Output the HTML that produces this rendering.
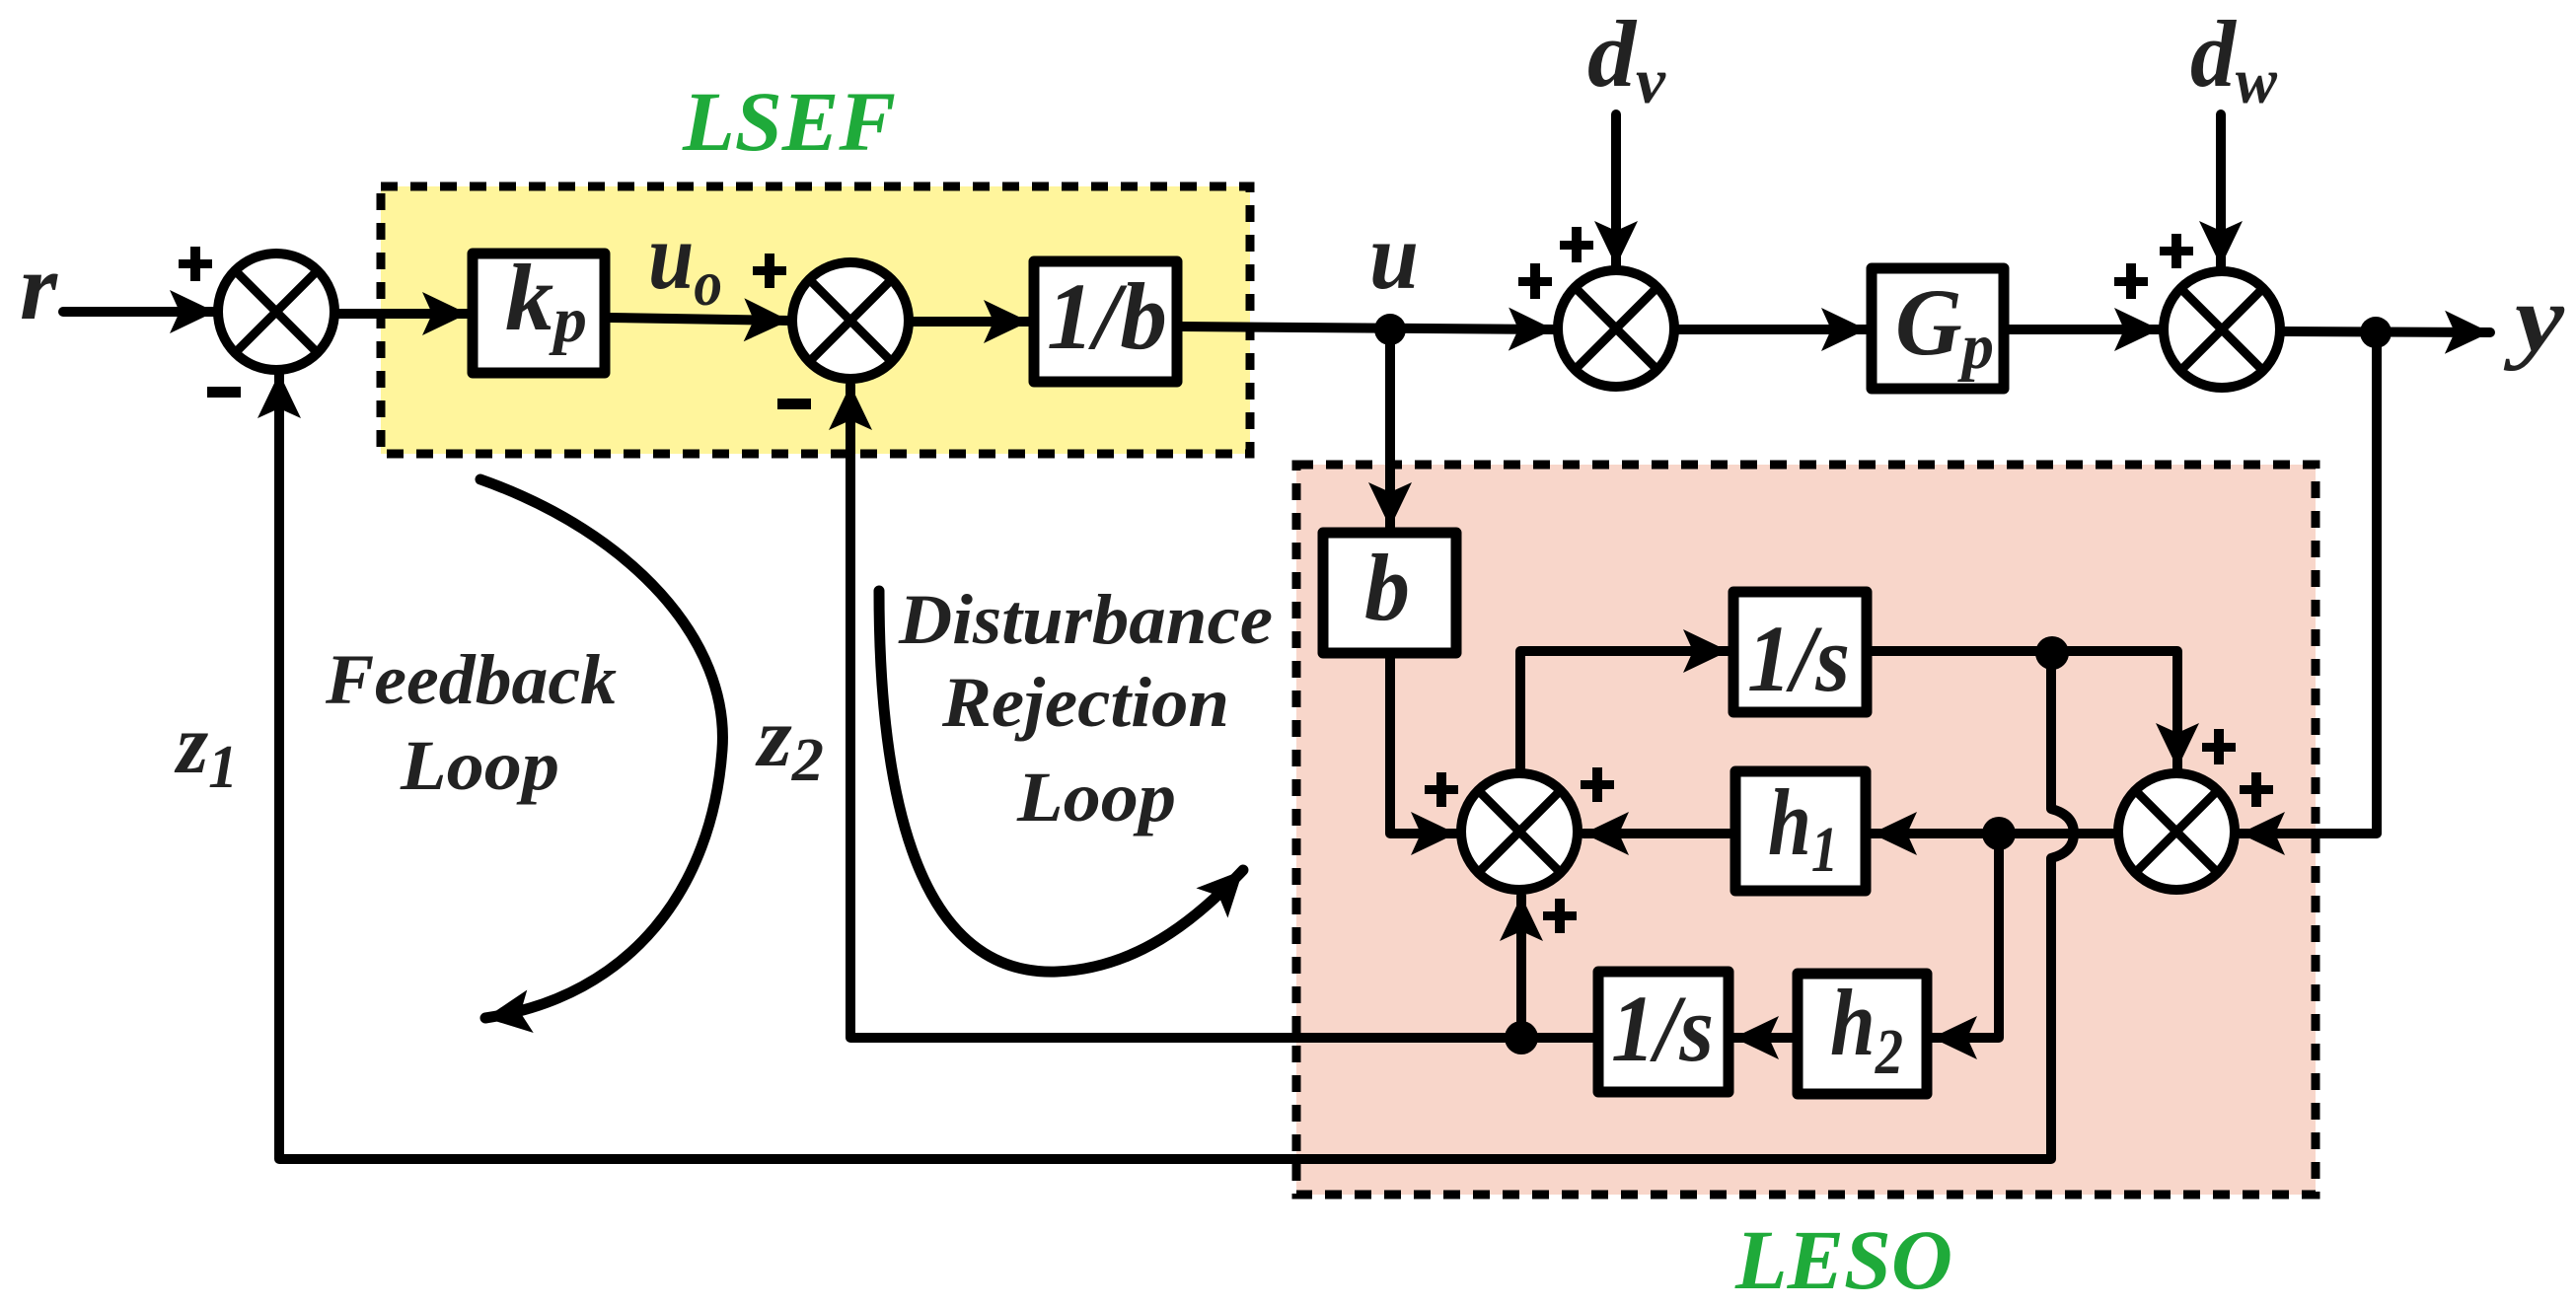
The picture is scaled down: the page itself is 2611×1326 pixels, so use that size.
<!DOCTYPE html>
<html><head><meta charset="utf-8"><style>
html,body{margin:0;padding:0;background:#fff;}
svg{display:block;}
.t{font-family:"Liberation Serif","Times New Roman",serif;font-style:italic;font-weight:bold;fill:#222;}
.g{font-family:"Liberation Serif","Times New Roman",serif;font-style:italic;font-weight:bold;fill:#1faa3a;}
</style></head><body>
<svg width="2611" height="1326" viewBox="0 0 2611 1326" xmlns="http://www.w3.org/2000/svg">
<defs>
<marker id="a" markerUnits="userSpaceOnUse" markerWidth="60" markerHeight="50" refX="0" refY="0" viewBox="-50 -25 60 50" orient="auto">
<path d="M0,0 L-46,-22 L-36,0 L-46,22 Z" fill="#000"/>
</marker>
</defs>
<rect x="386" y="189" width="881" height="271" fill="#fff59c" stroke="#000" stroke-width="9" stroke-dasharray="17 13"/>
<rect x="1314" y="471" width="1033" height="740" fill="#f8d6ca" stroke="#000" stroke-width="9" stroke-dasharray="17 13"/>
<text class="g" x="692" y="152" font-size="86" textLength="216" lengthAdjust="spacingAndGlyphs">LSEF</text>
<text class="g" x="1759" y="1306" font-size="86" textLength="220" lengthAdjust="spacingAndGlyphs">LESO</text>

<g stroke="#000" stroke-width="10" fill="none" stroke-linecap="round" stroke-linejoin="round">
<line x1="64" y1="316" x2="218" y2="316" marker-end="url(#a)"/>
<line x1="342" y1="318" x2="474" y2="318" marker-end="url(#a)"/>
<line x1="618" y1="322" x2="800" y2="325" marker-end="url(#a)"/>
<line x1="924" y1="326" x2="1043" y2="326" marker-end="url(#a)"/>
<line x1="1198" y1="331" x2="1575" y2="334" marker-end="url(#a)"/>
<line x1="1701" y1="334" x2="1892" y2="334" marker-end="url(#a)"/>
<line x1="2036" y1="334" x2="2189" y2="334" marker-end="url(#a)"/>
<line x1="2315" y1="336" x2="2524" y2="337" marker-end="url(#a)"/>
<line x1="1638" y1="116" x2="1638" y2="270" marker-end="url(#a)"/>
<line x1="2251" y1="116" x2="2251" y2="270" marker-end="url(#a)"/>
<line x1="1409" y1="334" x2="1409" y2="535" marker-end="url(#a)"/>
<polyline points="1409,667 1409,845 1476,845" marker-end="url(#a)"/>
<polyline points="1541,779 1541,660 1752,660" marker-end="url(#a)"/>
<polyline points="1897,660 2207,660 2207,779" marker-end="url(#a)"/>
<polyline points="2409,337 2409,845 2270,845" marker-end="url(#a)"/>
<line x1="2141" y1="845" x2="1897" y2="845" marker-end="url(#a)"/>
<line x1="1754" y1="845" x2="1605" y2="845" marker-end="url(#a)"/>
<polyline points="2026,845 2026,1052 1958,1052" marker-end="url(#a)"/>
<line x1="1817" y1="1052" x2="1757" y2="1052" marker-end="url(#a)"/>
<line x1="1542" y1="1052" x2="1542" y2="908" marker-end="url(#a)"/>
<polyline points="1615,1052 862,1052 862,390" marker-end="url(#a)"/>
<path d="M2079,662 L2079,820 Q2102,826 2102,845 Q2102,864 2079,870 L2079,1175 L283,1175 L283,378" marker-end="url(#a)"/>
<path d="M487,486 C640,540 740,650 732,760 C722,900 640,1010 492,1032" stroke-width="11" marker-end="url(#a)"/>
<path d="M891,599 C891,780 920,990 1071,985 C1150,982 1210,935 1260,882" stroke-width="11" marker-end="url(#a)"/>
</g>

<g stroke="#000" stroke-width="10" fill="#fff">
<circle cx="280" cy="316" r="59"/>
<circle cx="862" cy="325" r="59"/>
<circle cx="1638" cy="333" r="59"/>
<circle cx="2252" cy="334" r="59"/>
<circle cx="2206" cy="843" r="59"/>
<circle cx="1540" cy="843" r="59"/>
</g>
<g stroke="#000" stroke-width="9">
<path d="M238,274 L322,358 M322,274 L238,358"/>
<path d="M820,283 L904,367 M904,283 L820,367"/>
<path d="M1596,291 L1680,375 M1680,291 L1596,375"/>
<path d="M2210,292 L2294,376 M2294,292 L2210,376"/>
<path d="M2164,801 L2248,885 M2248,801 L2164,885"/>
<path d="M1498,801 L1582,885 M1582,801 L1498,885"/>
</g>
<g fill="#000">
<circle cx="1409" cy="334" r="16"/>
<circle cx="2408" cy="337" r="16"/>
<circle cx="2080" cy="662" r="17"/>
<circle cx="2026" cy="845" r="17"/>
<circle cx="1542" cy="1052" r="17"/>
</g>
<g fill="#000">
<rect x="181" y="263" width="34" height="9"/><rect x="193" y="250" width="10" height="35"/>
<rect x="210" y="392" width="34" height="11"/>
<rect x="763" y="270" width="34" height="9"/><rect x="775" y="257" width="10" height="35"/>
<rect x="788" y="404" width="34" height="11"/>
<rect x="1539" y="281" width="34" height="9"/><rect x="1551" y="267" width="10" height="36"/>
<rect x="1581" y="244" width="34" height="9"/><rect x="1593" y="230" width="10" height="36"/>
<rect x="2143" y="281" width="34" height="9"/><rect x="2155" y="267" width="10" height="36"/>
<rect x="2189" y="250" width="34" height="9"/><rect x="2201" y="237" width="10" height="35"/>
<rect x="2232" y="753" width="34" height="9"/><rect x="2244" y="739" width="10" height="36"/>
<rect x="2270" y="796" width="34" height="9"/><rect x="2282" y="783" width="10" height="35"/>
<rect x="1444" y="796" width="34" height="9"/><rect x="1456" y="783" width="10" height="35"/>
<rect x="1602" y="791" width="34" height="9"/><rect x="1614" y="778" width="10" height="35"/>
<rect x="1564" y="924" width="34" height="9"/><rect x="1576" y="911" width="10" height="35"/>
</g>
<g stroke="#000" stroke-width="11" fill="#fff" stroke-linejoin="round">
<rect x="479" y="257" width="134" height="121"/>
<rect x="1048" y="265" width="145" height="122"/>
<rect x="1897" y="272" width="134" height="122"/>
<rect x="1341" y="540" width="135" height="122"/>
<rect x="1757" y="600" width="135" height="122"/>
<rect x="1759" y="782" width="132" height="121"/>
<rect x="1620" y="985" width="132" height="122"/>
<rect x="1822" y="987" width="131" height="122"/>
</g>
<g class="t">
<text x="20" y="323" font-size="96" textLength="38" lengthAdjust="spacingAndGlyphs">r</text>
<text x="512" y="334" font-size="96" textLength="83" lengthAdjust="spacingAndGlyphs">k<tspan font-size="66" dy="12">p</tspan></text>
<text x="657" y="292" font-size="96" textLength="75" lengthAdjust="spacingAndGlyphs">u<tspan font-size="66" dy="17">o</tspan></text>
<text x="1061" y="353" font-size="96" textLength="122" lengthAdjust="spacingAndGlyphs">1/b</text>
<text x="1388" y="292" font-size="96" textLength="50" lengthAdjust="spacingAndGlyphs">u</text>
<text x="1609" y="87" font-size="96" textLength="79" lengthAdjust="spacingAndGlyphs">d<tspan font-size="66" dy="17">v</tspan></text>
<text x="2220" y="87" font-size="96" textLength="88" lengthAdjust="spacingAndGlyphs">d<tspan font-size="66" dy="17">w</tspan></text>
<text x="1921" y="359" font-size="96" textLength="100" lengthAdjust="spacingAndGlyphs">G<tspan font-size="66" dy="14">p</tspan></text>
<text x="2549" y="355" font-size="96" textLength="50" lengthAdjust="spacingAndGlyphs">y</text>
<text x="1383" y="628" font-size="96" textLength="46" lengthAdjust="spacingAndGlyphs">b</text>
<text x="1771" y="700" font-size="96" textLength="104" lengthAdjust="spacingAndGlyphs">1/s</text>
<text x="1792" y="866" font-size="96" textLength="71" lengthAdjust="spacingAndGlyphs">h<tspan font-size="66" dy="17">1</tspan></text>
<text x="1633" y="1075" font-size="96" textLength="104" lengthAdjust="spacingAndGlyphs">1/s</text>
<text x="1855" y="1069" font-size="96" textLength="74" lengthAdjust="spacingAndGlyphs">h<tspan font-size="66" dy="19">2</tspan></text>
<text x="179" y="783" font-size="86" textLength="62" lengthAdjust="spacingAndGlyphs">z<tspan font-size="62" dy="15">1</tspan></text>
<text x="768" y="776" font-size="86" textLength="67" lengthAdjust="spacingAndGlyphs">z<tspan font-size="62" dy="15">2</tspan></text>
<text x="330" y="713" font-size="72" textLength="295" lengthAdjust="spacingAndGlyphs">Feedback</text>
<text x="406" y="800" font-size="72" textLength="161" lengthAdjust="spacingAndGlyphs">Loop</text>
<text x="911" y="652" font-size="72" textLength="379" lengthAdjust="spacingAndGlyphs">Disturbance</text>
<text x="955" y="736" font-size="72" textLength="291" lengthAdjust="spacingAndGlyphs">Rejection</text>
<text x="1031" y="832" font-size="72" textLength="161" lengthAdjust="spacingAndGlyphs">Loop</text>
</g>
</svg>
</body></html>
